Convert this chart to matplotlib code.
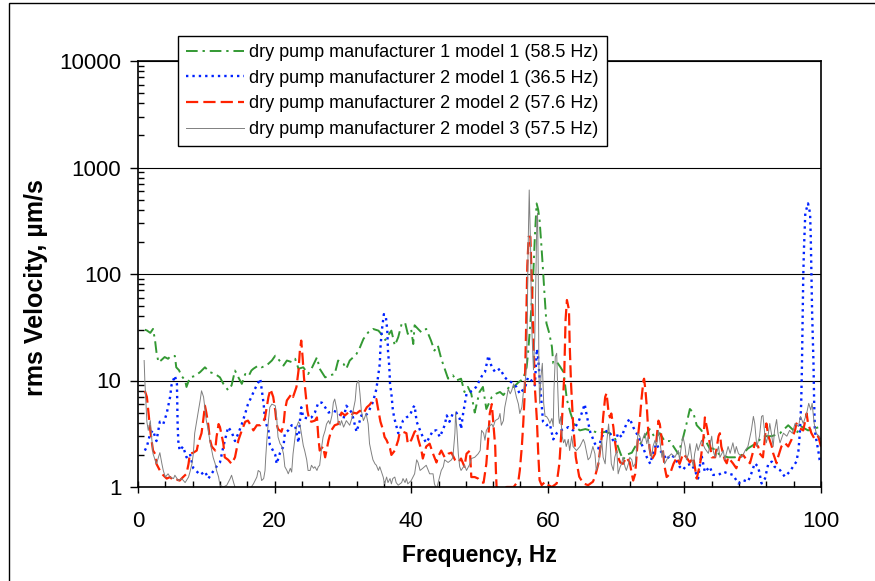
import numpy as np
import matplotlib
matplotlib.use("Agg")
import matplotlib.pyplot as plt
from matplotlib.patches import Rectangle

plt.rcParams['font.family'] = ['Liberation Sans', 'DejaVu Sans']

# (frequency Hz, rms velocity um/s)
green_pts = [
    (1.0, 30), (1.3, 29.5), (1.8, 28), (2.2, 30.5), (2.5, 23.7), (2.7, 18.5), (3.0, 14.8), (3.4, 15.5),
    (3.9, 16.6), (4.4, 16), (4.8, 17), (5.4, 17), (5.6, 13.3), (6.0, 12.5), (6.4, 11), (6.9, 10),
    (7.1, 8.7), (7.6, 10.7), (8.3, 11), (9.1, 12), (9.8, 13.3), (10.5, 12), (11.3, 11.5), (12.0, 10.7),
    (12.5, 9.3), (13.2, 8.1), (13.7, 9), (14.2, 12.4), (14.7, 10.7), (15.2, 9.3), (15.7, 11.5), (16.2, 11),
    (16.6, 12.4), (16.9, 12.9), (17.6, 13.8), (18.1, 13.3), (18.8, 13.8), (19.6, 15.4), (20.1, 17.1),
    (20.5, 16), (21.3, 13.8), (21.8, 15.4), (22.5, 14.9), (23.0, 16), (23.5, 12.9), (24.2, 13.3),
    (24.9, 11.5), (25.4, 12.9), (26.2, 16.5), (26.6, 12.9), (27.4, 10.7), (28.1, 11.2), (28.8, 11.5),
    (29.3, 15.4), (30.1, 14.3), (30.5, 12.9), (31.0, 15.4), (31.5, 16.5), (32.0, 17.8), (32.5, 20.5),
    (33.0, 24.5), (33.7, 28.3), (34.4, 30.5), (35.2, 29.4), (35.6, 27.4), (36.2, 24), (36.7, 27),
    (37.1, 29.4), (37.6, 21.3), (38.1, 25.5), (38.6, 34), (39.1, 35), (39.5, 27.4), (40.0, 30),
    (40.3, 22), (40.5, 33), (41.0, 30.5), (41.5, 28.3), (42.2, 30.5), (42.9, 23.7), (43.4, 19.1),
    (43.9, 21.3), (44.4, 16), (44.9, 12.9), (45.4, 10.4), (46.1, 11.2), (46.6, 10), (47.3, 10.4),
    (47.8, 7.8), (48.3, 8.7), (48.8, 7.5), (49.3, 5.0), (50.0, 7.8), (50.5, 8.7), (51.0, 5.4),
    (51.8, 7), (52.4, 7.5), (53.0, 7.8), (53.5, 7.3), (54.0, 8.1), (54.5, 9), (55.0, 8.7), (55.7, 9.6),
    (56.4, 10.4), (56.9, 13.3), (57.1, 17.8), (57.4, 31.6), (57.7, 60), (57.9, 109), (58.1, 220),
    (58.36, 460), (58.6, 400), (58.8, 318), (59.05, 190), (59.3, 109), (59.55, 60), (59.8, 34.5),
    (60.2, 28), (60.6, 20.8), (60.8, 14.5), (61.3, 15), (61.8, 13.5), (62.3, 12), (62.8, 6.6),
    (63.3, 5), (63.8, 4), (64.2, 3.6), (64.7, 3.4), (65.5, 3.5), (66.2, 3.4), (66.9, 3.3), (67.6, 3.2),
    (68.4, 3.3), (69.1, 3.2), (69.8, 2.9), (70.6, 2.1), (71.0, 1.8), (71.5, 2.0), (72.3, 2.1),
    (72.8, 2.4), (73.5, 2.5), (74.2, 3.0), (74.9, 3.5), (75.7, 2.9), (76.4, 3.2), (77.1, 2.7),
    (77.9, 2.7), (78.4, 2.4), (79.1, 2.05), (79.8, 2.9), (80.3, 3.9), (80.8, 5.4), (81.3, 5.0),
    (81.8, 3.8), (82.5, 3.4), (83.0, 2.8), (83.7, 2.3), (84.2, 2.3), (85.2, 2.0), (86.4, 1.9),
    (87.4, 1.9), (88.4, 2.0), (89.3, 2.3), (90.6, 2.6), (91.5, 3.0), (92.8, 3.0), (94.0, 3.2),
    (95.2, 3.8), (96.4, 3.2), (97.1, 3.7), (98.1, 3.4), (99.1, 3.55), (100.0, 3.7),
]

blue_pts = [
    (1.0, 2.2), (1.3, 2.4), (1.8, 3.2), (2.2, 3.4), (2.7, 2.7), (3.2, 4.1), (3.7, 3.9), (4.2, 4.9),
    (4.7, 7.0), (4.9, 9.0), (5.4, 11.1), (5.7, 9.3), (5.75, 6.0), (5.8, 3.9), (5.9, 2.7), (6.1, 2.2),
    (6.6, 2.4), (7.1, 1.9), (7.6, 2.05), (8.1, 1.5), (8.6, 1.4), (9.1, 1.3), (9.8, 1.4), (10.3, 1.2),
    (11.3, 1.5), (12.0, 1.7), (12.5, 2.4), (13.2, 3.65), (13.7, 3.3), (14.2, 2.7), (14.7, 3.2),
    (15.2, 3.9), (15.7, 4.9), (16.1, 6.0), (16.6, 7.0), (17.1, 8.3), (17.9, 10.4), (18.1, 8.3),
    (18.4, 6.0), (18.6, 4.2), (19.1, 3.4), (19.3, 2.5), (19.6, 2.3), (20.1, 2.0), (20.3, 1.65),
    (20.8, 2.1), (21.3, 2.4), (21.5, 3.2), (22.0, 3.4), (22.5, 3.8), (23.0, 3.8), (23.5, 2.6),
    (23.7, 4.1), (23.9, 5.6), (24.2, 4.5), (24.9, 4.4), (25.4, 4.5), (25.9, 5.0), (26.4, 6.2),
    (26.9, 6.2), (27.4, 5.6), (27.9, 5.0), (28.6, 5.2), (29.3, 5.0), (30.1, 4.4), (30.5, 5.8),
    (31.3, 5.0), (32.0, 3.3), (32.7, 4.7), (33.2, 4.6), (33.7, 5.0), (34.4, 6.3), (34.9, 8.3),
    (35.2, 11.5), (35.4, 14.3), (35.5, 20.5), (35.7, 29.5), (36.0, 42), (36.3, 39), (36.5, 29.5),
    (36.6, 19.1), (36.8, 13.3), (36.9, 9.3), (37.1, 7.5), (37.3, 5.4), (37.5, 4.5), (37.8, 3.8),
    (38.1, 3.2), (38.3, 3.4), (38.8, 4.2), (39.3, 4.5), (39.8, 4.7), (40.3, 5.6), (40.5, 5.8),
    (40.8, 4.1), (41.3, 3.4), (41.7, 2.95), (42.2, 2.6), (42.7, 2.95), (43.2, 3.4), (43.7, 3.4),
    (44.2, 2.95), (44.9, 3.8), (45.2, 4.7), (45.6, 4.1), (46.1, 4.9), (46.6, 5.0), (47.1, 4.4),
    (47.3, 3.5), (47.6, 4.9), (48.1, 7.5), (48.6, 7.8), (49.1, 8.1), (49.5, 8.7), (50.0, 10),
    (50.5, 11.5), (50.8, 12), (51.3, 17.1), (51.8, 13.3), (52.3, 12), (53.0, 12.9), (53.7, 10.7),
    (54.2, 10), (54.7, 9.6), (55.4, 8.7), (55.9, 7.5), (56.7, 8.7), (57.1, 10.7), (57.6, 10),
    (58.1, 9), (58.4, 19.8), (58.6, 16), (58.9, 8.7), (59.1, 6.0), (59.3, 4.1), (59.8, 3.8),
    (60.3, 3.9), (60.8, 2.8), (61.3, 3.2), (61.8, 3.4), (62.5, 3.5), (63.0, 3.65), (63.7, 3.4),
    (64.5, 4.1), (65.0, 5.0), (65.4, 6.0), (65.7, 4.7), (66.2, 3.3), (66.9, 2.55), (67.4, 2.3),
    (67.9, 2.95), (68.4, 3.3), (68.9, 3.4), (69.3, 2.95), (69.8, 2.55), (70.3, 3.2), (70.8, 2.95),
    (71.5, 3.9), (72.0, 4.4), (72.5, 3.65), (73.0, 3.2), (73.5, 2.75), (74.0, 2.3), (74.5, 1.9),
    (75.0, 1.65), (75.4, 2.1), (75.9, 2.55), (76.4, 2.2), (76.9, 2.05), (77.4, 1.8), (77.9, 2.0),
    (78.6, 1.9), (79.3, 1.55), (79.8, 1.45), (80.3, 1.6), (81.0, 1.65), (81.5, 1.45), (82.0, 1.2),
    (82.5, 2.0), (83.0, 1.38), (83.7, 1.55), (84.2, 1.3), (85.0, 1.3), (85.7, 1.39), (86.4, 1.34),
    (87.1, 1.3), (87.9, 1.08), (88.6, 1.16), (89.3, 1.12), (89.8, 1.34), (90.3, 1.67), (90.8, 1.55),
    (91.3, 1.08), (91.8, 1.2), (92.3, 1.67), (92.8, 1.73), (93.2, 1.55), (94.0, 1.44), (94.7, 1.25),
    (95.4, 1.39), (95.9, 1.55), (96.4, 1.73), (96.7, 2.2), (96.9, 3.2), (97.1, 6.1), (97.2, 12.6),
    (97.3, 37), (97.4, 94), (97.5, 168), (97.7, 372), (98.1, 460), (98.4, 372), (98.5, 224),
    (98.6, 94), (98.7, 43), (98.9, 14.5), (99.0, 6.1), (99.1, 3.4), (99.3, 2.8), (99.6, 2.2),
    (99.8, 1.8), (100.0, 1.67),
]

red_pts = [
    (1.0, 8), (1.3, 7.0), (1.5, 5.2), (1.8, 3.4), (2.0, 2.7), (2.2, 2.2), (2.5, 2.05), (2.7, 1.65),
    (3.2, 1.43), (3.7, 1.29), (4.2, 1.2), (4.7, 1.24), (5.2, 1.15), (5.7, 1.17), (6.1, 1.15),
    (6.6, 1.24), (7.1, 1.33), (7.4, 1.65), (7.6, 2.05), (8.1, 2.1), (8.6, 2.2), (8.8, 2.55), (9.3, 3.2),
    (9.6, 4.5), (9.8, 5.8), (10.0, 5.0), (10.3, 3.8), (10.5, 2.85), (10.8, 2.4), (11.3, 2.2),
    (11.5, 2.95), (11.8, 3.9), (12.0, 3.65), (12.5, 2.55), (12.7, 1.9), (13.2, 1.8), (13.7, 1.65),
    (14.2, 1.9), (14.7, 2.75), (15.2, 3.4), (15.7, 4.1), (16.1, 4.2), (16.6, 3.7), (16.9, 3.4),
    (17.4, 3.8), (17.9, 3.8), (18.4, 4.2), (18.6, 4.5), (19.1, 7.0), (19.4, 8.3), (19.8, 7.0),
    (20.1, 5.2), (20.3, 3.9), (20.5, 3.5), (21.0, 3.3), (21.3, 3.8), (21.5, 5.2), (21.8, 6.5),
    (22.3, 7.2), (22.5, 7.5), (22.7, 7.0), (23.2, 8.7), (23.5, 12.4), (23.7, 19.1), (23.9, 23.7),
    (24.1, 16.5), (24.3, 10.7), (24.6, 7.0), (24.8, 5.2), (25.1, 4.2), (25.4, 4.1), (25.9, 4.2),
    (26.2, 4.5), (26.4, 2.95), (26.6, 2.2), (27.1, 2.4), (27.4, 1.9), (27.6, 2.2), (27.9, 2.75),
    (28.3, 3.4), (28.8, 3.8), (29.3, 3.9), (29.8, 5.0), (30.3, 4.7), (30.8, 5.0), (31.3, 4.7),
    (31.5, 5.0), (32.0, 4.9), (32.5, 5.2), (33.0, 4.9), (33.5, 5.6), (33.9, 5.9), (34.4, 6.5),
    (34.9, 6.7), (35.2, 5.2), (35.5, 4.1), (35.9, 3.4), (36.1, 2.95), (36.4, 2.75), (36.9, 2.3),
    (37.1, 2.0), (37.6, 2.2), (37.8, 2.4), (38.1, 2.75), (38.3, 3.2), (38.8, 3.3), (39.3, 3.2),
    (39.5, 2.55), (40.0, 2.75), (40.5, 3.3), (40.8, 3.4), (41.0, 2.85), (41.5, 2.2), (41.7, 1.85),
    (42.2, 2.4), (42.7, 2.55), (43.2, 2.05), (43.7, 1.7), (43.9, 1.9), (44.4, 2.2), (44.9, 1.9),
    (45.4, 2.05), (45.9, 2.1), (46.4, 1.8), (46.9, 1.7), (47.3, 1.85), (47.8, 1.55), (48.1, 2.05),
    (48.6, 2.2), (48.8, 1.24), (49.3, 1.24), (49.8, 1.2), (50.3, 1.1), (50.6, 1.1), (51.0, 1.65),
    (51.3, 2.95), (51.5, 4.9), (51.8, 6.0), (52.0, 4.2), (52.3, 2.4), (52.4, 1.43), (52.5, 1.0),
    (53.0, 0.96), (54.0, 1.0), (55.0, 1.0), (55.7, 1.15), (55.9, 1.43), (56.2, 2.4), (56.4, 3.9),
    (56.6, 7.0), (56.8, 26), (57.0, 120), (57.2, 224), (57.45, 224), (57.6, 109), (57.9, 26),
    (58.1, 8.7), (58.4, 4.3), (58.6, 2.07), (58.8, 1.16), (59.1, 1.04), (59.6, 1.12), (60.1, 1.04),
    (60.6, 1.0), (61.3, 1.08), (61.7, 1.67), (62.0, 3.4), (62.4, 10.9), (62.6, 37), (62.8, 57),
    (63.1, 46), (63.2, 22.4), (63.4, 9.4), (63.7, 3.95), (64.1, 1.9), (64.6, 1.25), (65.2, 1.08),
    (65.9, 1.04), (66.6, 1.12), (66.9, 1.24), (67.4, 1.65), (67.9, 2.95), (68.1, 4.5), (68.4, 7.0),
    (68.6, 7.6), (68.9, 5.0), (69.1, 4.5), (69.3, 4.9), (69.6, 3.65), (69.8, 2.75), (70.1, 2.05),
    (70.6, 1.7), (71.0, 1.65), (71.5, 1.9), (72.0, 1.7), (72.3, 1.33), (72.5, 1.15), (72.8, 1.33),
    (73.0, 2.0), (73.2, 2.95), (73.5, 4.5), (73.7, 6.5), (74.0, 10), (74.1, 10.4), (74.3, 8),
    (74.5, 5.6), (74.7, 3.4), (74.9, 2.3), (75.2, 1.8), (75.7, 2.05), (75.9, 2.75), (76.2, 4.2),
    (76.4, 3.9), (76.7, 2.75), (77.1, 1.55), (77.4, 1.24), (77.9, 1.33), (78.4, 1.65), (78.9, 1.9),
    (79.3, 1.65), (79.8, 2.05), (80.3, 1.9), (80.8, 1.7), (81.3, 1.9), (81.8, 1.2), (82.3, 1.65),
    (82.8, 2.95), (83.0, 4.5), (83.3, 3.6), (83.7, 2.6), (84.0, 1.9), (84.5, 1.9), (85.0, 3.0),
    (85.2, 3.2), (85.4, 2.4), (85.9, 1.8), (86.2, 1.67), (86.4, 1.9), (87.1, 1.67), (87.6, 1.5),
    (88.1, 1.9), (88.6, 2.0), (89.1, 1.8), (89.6, 1.67), (90.1, 2.2), (90.3, 2.6), (90.8, 2.4),
    (91.0, 2.07), (91.5, 1.9), (92.0, 3.95), (92.3, 3.0), (92.8, 2.4), (93.0, 2.07), (93.5, 1.67),
    (93.7, 1.9), (94.2, 2.4), (94.7, 2.6), (95.2, 2.4), (95.7, 2.8), (96.2, 3.4), (96.4, 3.95),
    (96.9, 3.55), (97.4, 3.4), (97.9, 4.9), (98.1, 3.95), (98.6, 3.2), (99.1, 2.8), (99.6, 3.0),
    (100.0, 2.4),
]

grey_pts = [
    (0.9, 15.4), (1.0, 10), (1.2, 5.6), (1.3, 4.1), (1.5, 3.4), (1.8, 4.2), (2.0, 2.95), (2.2, 2.05),
    (2.5, 1.8), (2.7, 1.65), (3.0, 1.9), (3.2, 2.1), (3.5, 1.65), (3.7, 1.43), (4.0, 1.24), (4.4, 1.33),
    (4.7, 1.24), (5.2, 1.2), (5.4, 1.29), (5.9, 1.15), (6.4, 1.2), (6.9, 1.1), (7.4, 1.24), (7.6, 1.38),
    (7.9, 1.65), (8.1, 2.05), (8.3, 3.2), (8.6, 4.2), (8.8, 5.0), (9.1, 6.5), (9.3, 8.0), (9.6, 7.0),
    (9.8, 5.4), (10.0, 4.2), (10.3, 3.4), (10.5, 2.75), (10.8, 2.2), (11.0, 1.9), (11.3, 1.65),
    (11.5, 1.43), (11.8, 1.24), (12.0, 1.04), (12.5, 1.0), (13.0, 1.04), (13.5, 1.2), (13.7, 1.29),
    (14.0, 1.1), (14.2, 1.0), (14.6, 0.85), (15.0, 0.9), (15.5, 0.8), (16.0, 0.9), (16.4, 0.96),
    (16.9, 1.07), (17.4, 1.24), (17.6, 1.43), (17.9, 1.38), (18.1, 1.15), (18.4, 1.2), (18.6, 1.43),
    (18.7, 1.9), (18.9, 2.95), (19.1, 4.2), (19.3, 5.6), (19.6, 6.0), (20.1, 5.8), (20.3, 4.5),
    (20.5, 2.95), (20.8, 2.55), (21.0, 2.45), (21.3, 2.05), (21.5, 1.55), (21.8, 1.43), (22.0, 1.33),
    (22.3, 1.5), (22.5, 1.38), (22.7, 2.05), (23.0, 2.95), (23.2, 3.65), (23.5, 4.1), (23.7, 3.9),
    (24.0, 2.95), (24.2, 2.45), (24.4, 2.2), (24.7, 1.8), (24.9, 1.43), (25.2, 1.43), (25.4, 1.6),
    (25.7, 1.5), (25.9, 1.55), (26.2, 1.43), (26.4, 1.55), (26.6, 1.6), (26.9, 2.4), (27.1, 2.95),
    (27.4, 3.4), (27.6, 3.9), (27.9, 4.2), (28.1, 3.9), (28.4, 4.7), (28.6, 6.2), (28.8, 6.7),
    (29.1, 5.4), (29.3, 4.1), (29.6, 3.8), (29.8, 4.2), (30.1, 3.65), (30.3, 3.9), (30.5, 4.2),
    (31.0, 3.8), (31.3, 4.4), (31.5, 5.2), (31.8, 6.5), (32.0, 9.3), (32.3, 10), (32.5, 7.5),
    (32.7, 5.2), (33.0, 4.2), (33.2, 4.5), (33.4, 4.9), (33.7, 3.9), (33.9, 2.55), (34.2, 2.05),
    (34.4, 1.8), (34.7, 1.65), (34.9, 1.6), (35.2, 1.43), (35.4, 1.55), (35.9, 1.24), (36.1, 1.07),
    (36.4, 1.24), (36.6, 1.1), (36.9, 1.2), (37.1, 1.07), (37.3, 1.2), (37.6, 1.24), (37.8, 1.1),
    (38.1, 1.04), (38.6, 1.1), (38.8, 1.2), (39.1, 1.1), (39.3, 1.2), (39.5, 1.07), (40.0, 1.15),
    (40.5, 1.33), (40.8, 1.8), (41.0, 1.7), (41.3, 1.43), (41.7, 1.5), (42.2, 1.6), (42.5, 1.43),
    (42.7, 1.33), (43.2, 1.33), (43.4, 1.07), (43.7, 0.96), (43.9, 1.07), (44.4, 1.43), (44.7, 1.55),
    (44.9, 1.8), (45.4, 1.7), (45.9, 1.8), (46.1, 1.9), (46.4, 3.2), (46.5, 5.0), (46.7, 3.4),
    (46.9, 2.05), (47.1, 1.55), (47.3, 1.43), (47.8, 1.6), (48.1, 1.43), (48.6, 1.65), (48.8, 1.85),
    (49.3, 1.9), (49.8, 2.05), (50.1, 2.2), (50.3, 3.4), (50.6, 3.2), (50.8, 2.75), (51.0, 3.4),
    (51.3, 3.65), (51.8, 3.9), (52.0, 3.65), (52.3, 4.2), (52.8, 4.4), (53.0, 4.9), (53.2, 3.8),
    (53.5, 4.2), (53.7, 5.6), (54.0, 7.0), (54.2, 8.3), (54.5, 7.5), (54.7, 8.0), (55.0, 9.3),
    (55.2, 8.0), (55.4, 7.0), (55.7, 6.0), (55.9, 4.9), (56.2, 5.6), (56.4, 7.5), (56.7, 10),
    (56.9, 14.3), (57.0, 37), (57.1, 156), (57.28, 615), (57.5, 156), (57.6, 37), (57.9, 12.6),
    (58.1, 26), (58.4, 320), (58.5, 370), (58.6, 109), (58.7, 12.6), (58.8, 6.1), (59.0, 10.9),
    (59.2, 14.5), (59.4, 6.1), (59.6, 4.6), (59.8, 4.6), (60.1, 4.3), (60.3, 3.95), (60.6, 4.4),
    (60.8, 3.7), (60.9, 8.1), (61.1, 16.7), (61.3, 18), (61.4, 10.9), (61.6, 4.6), (61.7, 3.95),
    (61.9, 4.6), (62.1, 3.0), (62.3, 2.6), (62.5, 2.8), (62.7, 2.4), (63.0, 2.8), (63.2, 2.2),
    (63.5, 3.0), (63.7, 2.4), (64.2, 2.2), (64.7, 2.4), (65.2, 2.8), (65.4, 2.6), (65.7, 2.07),
    (65.9, 1.8), (66.2, 1.9), (66.6, 2.4), (66.9, 2.05), (67.1, 1.43), (67.4, 1.65), (67.6, 2.05),
    (67.9, 2.75), (68.1, 1.9), (68.4, 1.65), (68.6, 2.55), (68.9, 3.9), (69.1, 2.75), (69.3, 1.65),
    (69.6, 1.43), (69.8, 1.9), (70.1, 2.2), (70.3, 1.33), (70.6, 1.55), (70.8, 1.65), (71.0, 1.9),
    (71.3, 1.55), (71.5, 1.43), (71.8, 1.65), (72.0, 1.9), (72.3, 1.8), (72.5, 1.55), (72.8, 1.65),
    (73.0, 2.2), (73.2, 3.2), (73.5, 2.95), (73.7, 2.55), (74.0, 2.95), (74.2, 3.2), (74.5, 2.55),
    (74.7, 2.95), (74.9, 2.2), (75.2, 1.9), (75.4, 2.4), (75.7, 2.75), (75.9, 2.4), (76.2, 3.4),
    (76.4, 2.75), (76.7, 1.9), (76.9, 2.2), (77.1, 1.65), (77.6, 1.9), (78.1, 2.05), (78.6, 1.9),
    (79.1, 2.2), (79.3, 1.8), (79.6, 2.55), (79.8, 2.95), (80.1, 2.4), (80.3, 1.8), (80.6, 2.05),
    (80.8, 2.55), (81.1, 1.8), (81.3, 1.55), (81.5, 2.05), (81.8, 2.55), (82.0, 2.2), (82.5, 2.75),
    (83.0, 2.3), (83.5, 2.07), (83.7, 2.4), (84.0, 3.0), (84.2, 2.2), (84.5, 1.9), (85.0, 2.4),
    (85.2, 1.9), (85.7, 2.2), (85.9, 1.8), (86.4, 2.4), (86.7, 2.07), (87.1, 2.6), (87.4, 2.07),
    (87.6, 2.4), (87.9, 2.07), (88.4, 1.9), (88.9, 2.2), (89.3, 2.4), (89.8, 3.4), (90.1, 4.6),
    (90.3, 3.95), (90.6, 2.4), (91.0, 3.0), (91.3, 4.6), (91.5, 4.7), (91.8, 3.0), (92.0, 2.6),
    (92.3, 3.2), (92.5, 3.95), (92.8, 3.0), (93.0, 2.4), (93.2, 3.4), (93.5, 4.3), (93.7, 3.2),
    (94.0, 2.6), (94.5, 3.2), (95.0, 3.0), (95.4, 3.4), (95.8, 3.2), (96.2, 3.95), (96.7, 3.7),
    (97.0, 4.6), (97.4, 3.95), (97.9, 4.9), (98.2, 6.1), (98.5, 5.3), (98.7, 6.1), (99.0, 3.95),
    (99.3, 3.2), (99.7, 3.0), (100.0, 2.8),
]

labels = [
    "dry pump manufacturer 1 model 1 (58.5 Hz)",
    "dry pump manufacturer 2 model 1 (36.5 Hz)",
    "dry pump manufacturer 2 model 2 (57.6 Hz)",
    "dry pump manufacturer 2 model 3 (57.5 Hz)",
]
x_ticks = [0, 20, 40, 60, 80, 100]
y_ticks = [1, 10, 100, 1000, 10000]

fig = plt.figure(figsize=(8.75, 5.81), dpi=100)
ax = fig.add_axes([138 / 875, 1 - 487 / 581, 683 / 875, 426 / 581])

# thin frame round the whole picture
fig.patches.append(Rectangle((9 / 875, -0.02), 1.0, 1 - 3 / 581 + 0.02, transform=fig.transFigure,
                             fill=False, edgecolor='black', linewidth=1.0))

styles = [
    dict(color='#339933', lw=1.4, ls=(0, (6, 2.5, 1.2, 2.5))),
    dict(color='#0022ff', lw=1.7, ls=(0, (1, 1.7))),
    dict(color='#ff2200', lw=1.6, ls=(0, (5.5, 2.3))),
    dict(color='#808080', lw=0.7, ls='-'),
]
for pts, lab, st in zip([green_pts, blue_pts, red_pts, grey_pts], labels, styles):
    f, v = np.array(pts).T
    ax.plot(f, v, label=lab, color=st['color'], linewidth=st['lw'], linestyle=st['ls'])

ax.set_yscale('log')
ax.set_xlim(0, 100)
ax.set_ylim(1, 10000)
ax.set_xticks(x_ticks)
ax.set_xticks(np.arange(0, 101, 4), minor=True)
ax.set_yticks(y_ticks)
ax.set_yticklabels([str(t) for t in y_ticks])
ax.yaxis.set_minor_formatter(plt.NullFormatter())
ax.grid(axis='y', which='major', color='black', linewidth=0.8)

ax.tick_params(axis='x', which='major', direction='inout', length=8, pad=13, labelsize=16, width=1)
ax.tick_params(axis='x', which='minor', direction='in', length=4, width=1)
ax.tick_params(axis='y', which='major', direction='out', length=6, pad=6, labelsize=16, width=1)
ax.tick_params(axis='y', which='minor', direction='in', length=4, width=1)
for s in ax.spines.values():
    s.set_linewidth(1.2)

ax.set_xlabel("Frequency, Hz", fontsize=16.5, fontweight='bold', labelpad=9)
ax.set_ylabel("rms Velocity, \u00b5m/s", fontsize=18, fontweight='bold')
ax.yaxis.set_label_coords(-0.132, 0.467)

leg = ax.legend(loc='upper left', bbox_to_anchor=(40 / 683, 1 + 25 / 426), borderaxespad=0,
                fontsize=13, frameon=True, fancybox=False, framealpha=1, edgecolor='black',
                handlelength=3.2, handletextpad=0.3, labelspacing=0.48, borderpad=0.45)
leg.get_frame().set_linewidth(1.0)

fig.savefig("out.png", dpi=100)
